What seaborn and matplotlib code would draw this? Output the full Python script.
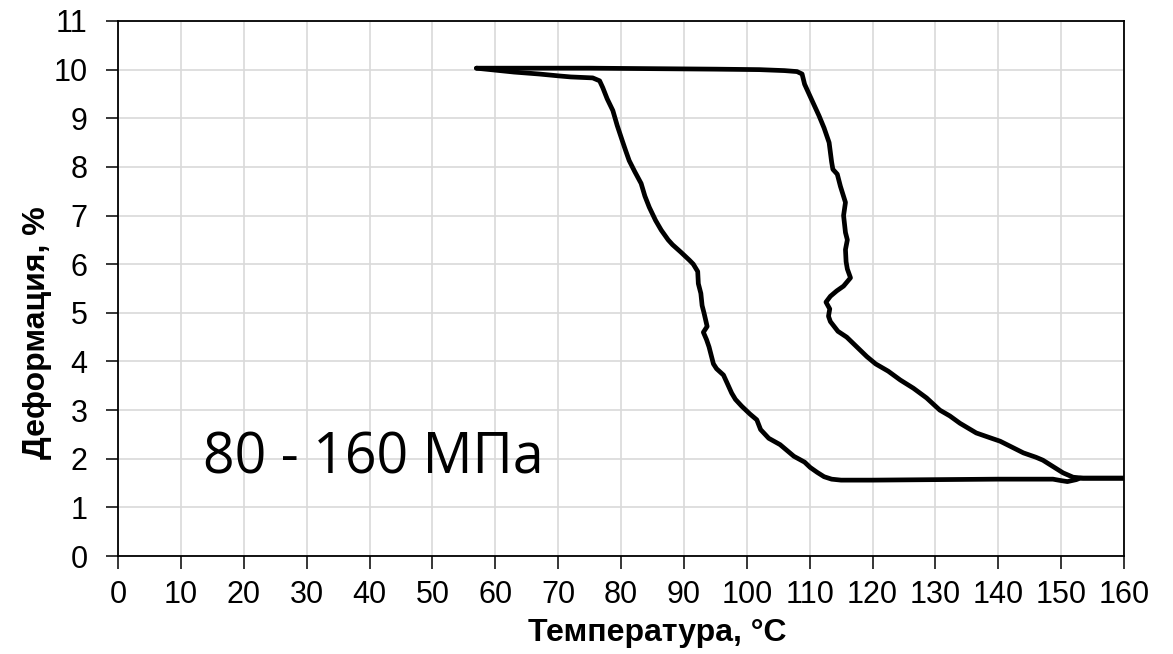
import numpy as np
import pandas as pd
import matplotlib
matplotlib.use("Agg")
import matplotlib.pyplot as plt
import seaborn as sns

# Heating branch (upper plateau, then drop near 110-150 °C)
heat_temp = [57.0, 65, 75, 85, 95, 102, 106, 108, 108.8, 109.2, 110.4, 111.5, 112.3, 113.1,
             113.5, 113.7, 114.4, 114.9, 115.7, 115.4, 115.7, 116.0, 115.7, 115.8, 116.0, 116.5,
             115.4, 114.3, 113.3, 112.6, 113.2, 113.0, 113.3, 114.5, 115.9, 117.5, 119.1, 120.5,
             122.5, 124.4, 126.5, 128.6, 130.7, 132.3, 133.9, 136.5, 138.5, 140.3, 142.0, 144.0,
             146.0, 147.1, 148.7, 150.3, 151.9, 153.5, 156, 160]
heat_strain = [10.03, 10.03, 10.03, 10.02, 10.01, 10.0, 9.98, 9.96, 9.91, 9.7, 9.36, 9.05, 8.8, 8.5,
               8.1, 7.95, 7.85, 7.6, 7.27, 7.0, 6.65, 6.5, 6.3, 6.05, 5.9, 5.72,
               5.55, 5.45, 5.34, 5.22, 5.08, 4.93, 4.82, 4.62, 4.5, 4.3, 4.1, 3.95,
               3.8, 3.62, 3.45, 3.25, 3.0, 2.88, 2.73, 2.53, 2.44, 2.36, 2.25, 2.12,
               2.03, 1.97, 1.84, 1.71, 1.62, 1.6, 1.6, 1.6]

# Cooling branch (lower plateau, then rise near 112-77 °C)
cool_temp = [160, 153, 152.4, 151, 150, 148.7, 140, 130, 120, 115, 113.5, 112.3, 111.2, 110.1,
             109.2, 107.5, 105.3, 103.5, 102.2, 101.6, 100.5, 99.2, 98.2, 97.6, 96.9, 96.3,
             95.2, 94.7, 94.0, 93.6, 93.1, 93.7, 93.2, 92.9, 92.7, 92.3, 92.2, 91.5, 90.9,
             89.5, 88.2, 87.5, 86.4, 85.5, 84.5, 83.8, 83.2, 82.2, 81.3, 80.7, 80.2, 79.4,
             78.7, 77.8, 77.1, 76.6, 75.5, 72, 70.2, 67, 63, 60, 57]
cool_strain = [1.6, 1.6, 1.57, 1.53, 1.55, 1.58, 1.58, 1.57, 1.56, 1.56, 1.58, 1.63, 1.72, 1.82,
               1.93, 2.05, 2.29, 2.42, 2.6, 2.8, 2.92, 3.08, 3.22, 3.35, 3.55, 3.72,
               3.85, 3.95, 4.3, 4.45, 4.6, 4.72, 5.0, 5.15, 5.4, 5.6, 5.85, 6.0, 6.08,
               6.25, 6.4, 6.5, 6.7, 6.9, 7.17, 7.4, 7.66, 7.9, 8.13, 8.35, 8.54, 8.85,
               9.16, 9.4, 9.63, 9.77, 9.83, 9.85, 9.87, 9.91, 9.95, 9.99, 10.03]

x_ticks = list(range(0, 161, 10))
y_ticks = list(range(0, 12, 1))
x_label = "Температура, °C"
y_label = "Деформация, %"
annotation = "80 - 160 МПа"

sns.set_style("ticks")
plt.rcParams["font.family"] = ["Liberation Sans", "DejaVu Sans"]
plt.rcParams["text.color"] = "black"
plt.rcParams["axes.labelcolor"] = "black"

fig = plt.figure(figsize=(11.73, 6.54), dpi=100)
ax = fig.add_axes([118 / 1173, 1 - 556 / 654, (1124 - 118) / 1173, (556 - 21) / 654])

df_heat = pd.DataFrame({"T": heat_temp, "e": heat_strain})
df_cool = pd.DataFrame({"T": cool_temp, "e": cool_strain})
sns.lineplot(data=df_heat, x="T", y="e", sort=False, estimator=None, color="black", lw=3.4, ax=ax, zorder=3)
sns.lineplot(data=df_cool, x="T", y="e", sort=False, estimator=None, color="black", lw=3.4, ax=ax, zorder=3)

ax.set_xlim(0, 160)
ax.set_ylim(0, 11)
ax.set_xticks(x_ticks)
ax.set_yticks(y_ticks)
ax.grid(True, color="#d9d9d9", lw=1.2, zorder=0)
ax.set_axisbelow(True)
for s in ax.spines.values():
    s.set_visible(True)
    s.set_color("black")
    s.set_linewidth(1.3)
ax.tick_params(axis="both", direction="out", length=9, width=1.1, color="black",
               labelsize=22, labelcolor="black")
ax.tick_params(axis="y", pad=13)
ax.tick_params(axis="x", pad=8)
ax.set_xlabel(x_label, fontsize=23, fontweight="bold", labelpad=8, color="black")
ax.set_ylabel(y_label, fontsize=23, fontweight="bold", labelpad=1, color="black")
ax.xaxis.set_label_coords(0.536, -0.115)
ax.xaxis.label.set_va("top")
ax.yaxis.label.set_y(0.417)

ax.text(13.5, 2.0, annotation, fontsize=40, family=["Open Sans", "DejaVu Sans"],
        ha="left", va="center", color="black")

fig.savefig("out.png", dpi=100)
